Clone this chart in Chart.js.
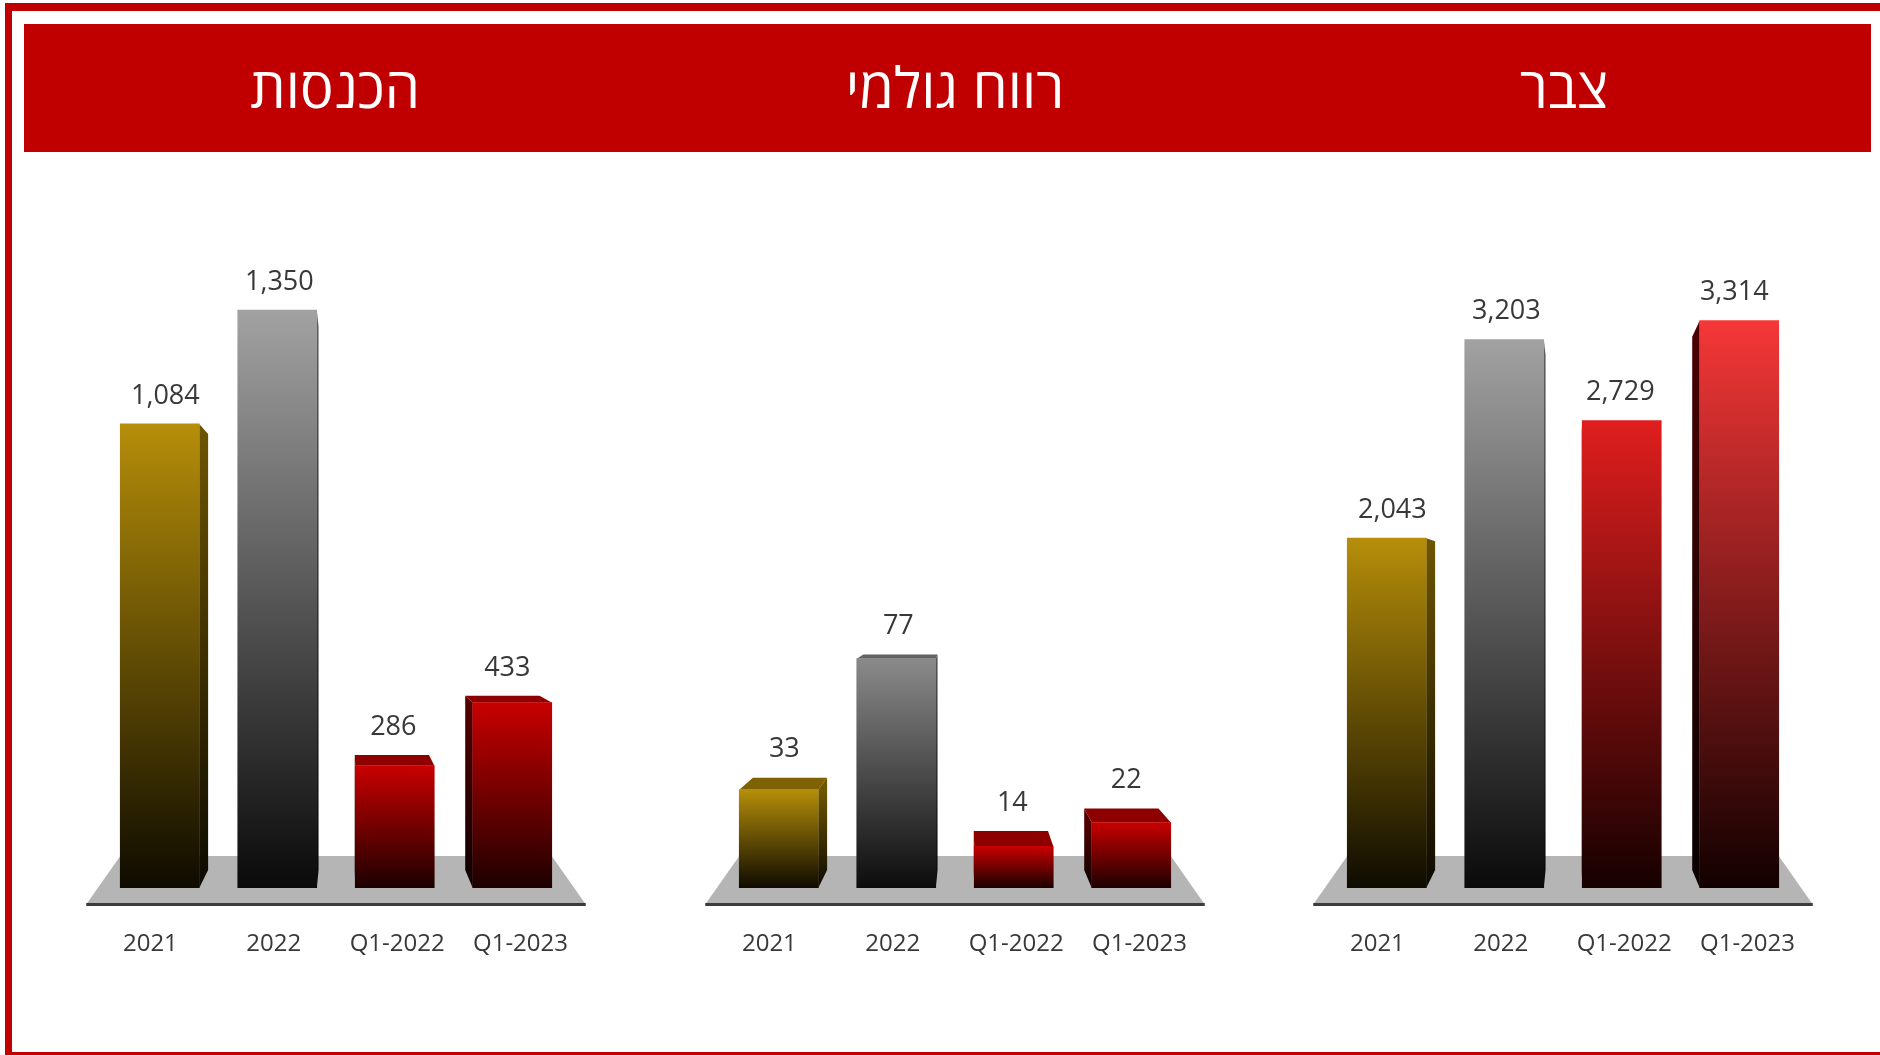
<!DOCTYPE html>
<html lang="he">
<head>
<meta charset="utf-8">
<title>הכנסות / רווח גולמי / צבר</title>
<script src="https://cdn.jsdelivr.net/npm/chart.js@4.4.1/dist/chart.umd.min.js"></script>
<style>
  html, body { margin: 0; padding: 0; background: #fff; }
  body { width: 1880px; height: 1055px; position: relative; overflow: hidden; font-family: "Open Sans", "DejaVu Sans", sans-serif; }
  .frame-top { position: absolute; left: 5px; top: 3px; width: 1875px; height: 8px; background: #c00000; }
  .frame-left { position: absolute; left: 5px; top: 3px; width: 7px; height: 1052px; background: #c00000; }
  .frame-bottom { position: absolute; left: 5px; top: 1052px; width: 1875px; height: 3px; background: #c00000; }
  .band { position: absolute; left: 24px; top: 24px; width: 1847px; height: 128px; background: #c00000; }
  .title { position: absolute; top: 22px; height: 128px; line-height: 128px; width: 600px; text-align: center; color: #fff; font-size: 56px; direction: rtl; }
  .panel { position: absolute; top: 160px; }
</style>
</head>
<body>
<div class="frame-top"></div>
<div class="frame-left"></div>
<div class="frame-bottom"></div>
<div class="band"></div>
<div class="title" id="t0" style="left: 35px;"></div>
<div class="title" id="t1" style="left: 655px;"></div>
<div class="title" id="t2" style="left: 1264px;"></div>
<canvas class="panel" id="c0" width="550" height="890" style="left: 61px;"></canvas>
<canvas class="panel" id="c1" width="550" height="890" style="left: 680px;"></canvas>
<canvas class="panel" id="c2" width="550" height="890" style="left: 1288px;"></canvas>

<script>
// Data
const categories = ['2021', '2022', 'Q1-2022', 'Q1-2023'];
const revenue = [1084, 1350, 286, 433];
const grossProfit = [33, 77, 14, 22];
const backlog = [2043, 3203, 2729, 3314];
const panelTitles = ['הכנסות', 'רווח גולמי', 'צבר'];
const axisMax = [1600, 230, 4000];

// Bar colours (front gradient top/bottom, side gradient, top face)
const gold = { front: ['#b68e0a', '#0e0b00'], side: ['#6e5500', '#0c0900'], top: '#7d6102' };
const grey = { front: ['#a2a2a2', '#0a0a0a'], side: ['#5c5c5c', '#080808'], top: '#6a6a6a' };
const greyDark = { front: ['#8a8a8a', '#0c0c0c'], side: ['#505050', '#080808'], top: '#626262' };
const red = { front: ['#c80000', '#1c0000'], side: ['#520000', '#0c0000'], top: '#8e0000' };
const redBright = { front: ['#e01e1e', '#160000'], side: ['#560000', '#0a0000'], top: '#9a0000' };
const redBrighter = { front: ['#f53737', '#120000'], side: ['#4c0000', '#080000'], top: '#a00000' };

const panels = [
    { values: revenue, colors: [gold, grey, red, red] },
    { values: grossProfit, colors: [gold, greyDark, red, red] },
    { values: backlog, colors: [gold, grey, redBright, redBrighter] }
];

const labelFont = '"Open Sans", "DejaVu Sans", sans-serif';

// Draws floor, side faces, top faces, value labels and category labels (with perspective)
const box3d = {
    id: 'box3d',
    beforeDatasetsDraw(chart, args, opts) {
        const { ctx } = chart;
        const bars = chart.getDatasetMeta(0).data;
        const zero = chart.scales.y.getPixelForValue(0);
        const first = bars[0];
        const last = bars[bars.length - 1];
        const vx = (first.x + last.x) / 2 + opts.vx;
        const vy = zero + opts.vy;
        const d = opts.depth;
        const back = (x, y) => [x + d * (vx - x), y + d * (vy - y)];

        ctx.save();
        // floor
        const bl = first.x - first.width / 2;
        const br = last.x + last.width / 2;
        ctx.fillStyle = '#b5b5b5';
        ctx.beginPath();
        ctx.moveTo(bl, zero - 32);
        ctx.lineTo(br, zero - 32);
        ctx.lineTo(br + 33, zero + 15);
        ctx.lineTo(bl - 33, zero + 15);
        ctx.closePath();
        ctx.fill();
        ctx.fillStyle = '#3c3c3c';
        ctx.fillRect(bl - 34, zero + 15, br - bl + 68, 3);

        bars.forEach((bar, i) => {
            const pal = opts.colors[i];
            const x0 = bar.x - bar.width / 2;
            const x1 = bar.x + bar.width / 2;
            const yt = bar.y;
            const yb = bar.base;
            const sx = bar.x < vx ? x1 : x0;
            const [bx, bty] = back(sx, yt);
            const [, bby] = back(sx, yb);
            const g = ctx.createLinearGradient(0, yt, 0, yb);
            g.addColorStop(0, pal.side[0]);
            g.addColorStop(1, pal.side[1]);
            ctx.fillStyle = g;
            ctx.beginPath();
            ctx.moveTo(sx, yt);
            ctx.lineTo(bx, bty);
            ctx.lineTo(bx, bby);
            ctx.lineTo(sx, yb);
            ctx.closePath();
            ctx.fill();
            if (yt > vy) {
                const [lx, ly] = back(x0, yt);
                const [rx, ry] = back(x1, yt);
                ctx.fillStyle = pal.top;
                ctx.beginPath();
                ctx.moveTo(x0, yt);
                ctx.lineTo(x1, yt);
                ctx.lineTo(rx, ry);
                ctx.lineTo(lx, ly);
                ctx.closePath();
                ctx.fill();
            }
        });
        ctx.restore();
    },
    afterDatasetsDraw(chart, args, opts) {
        const { ctx } = chart;
        const bars = chart.getDatasetMeta(0).data;
        const values = chart.data.datasets[0].data;
        const xScale = chart.scales.x;
        const zero = chart.scales.y.getPixelForValue(0);
        const vx = (bars[0].x + bars[bars.length - 1].x) / 2 + opts.vx;
        const vy = zero + opts.vy;
        ctx.save();
        ctx.fillStyle = '#383838';
        ctx.textAlign = 'center';
        ctx.textBaseline = 'middle';
        // values above the bars
        ctx.font = '27px ' + labelFont;
        bars.forEach((bar, i) => {
            let top = bar.y;
            if (top > vy) top += opts.depth * (vy - top);
            const x = bar.x + 0.5 * opts.depth * (vx - bar.x);
            ctx.fillText(values[i].toLocaleString('en-US'), x, top - 28);
        });
        // category labels on the front edge of the floor
        ctx.font = '24px ' + labelFont;
        chart.data.labels.forEach((label, i) => {
            const x = vx + (xScale.getPixelForTick(i) - vx) * 1.05;
            ctx.fillText(label, x, zero + 56);
        });
        ctx.restore();
    }
};

panels.forEach((p, n) => {
    document.getElementById('t' + n).textContent = panelTitles[n];

    new Chart(document.getElementById('c' + n), {
        type: 'bar',
        data: {
            labels: categories,
            datasets: [{
                data: p.values,
                barThickness: 79,
                borderWidth: 0,
                backgroundColor: (context) => {
                    const chart = context.chart;
                    if (!chart.chartArea) return p.colors[context.dataIndex].front[0];
                    const y = chart.scales.y;
                    const top = y.getPixelForValue(context.raw);
                    const bottom = y.getPixelForValue(0);
                    const g = chart.ctx.createLinearGradient(0, top, 0, bottom);
                    const c = p.colors[context.dataIndex].front;
                    g.addColorStop(0, c[0]);
                    g.addColorStop(1, c[1]);
                    return g;
                }
            }]
        },
        options: {
            responsive: false,
            animation: false,
            layout: { padding: { top: 43, left: 40, right: 40, bottom: 0 } },
            plugins: {
                legend: { display: false },
                tooltip: { enabled: false },
                box3d: { colors: p.colors, vx: 11, vy: -298, depth: 0.06 }
            },
            scales: {
                y: { display: false, min: 0, max: axisMax[n] },
                x: {
                    grid: { display: false, drawTicks: false },
                    border: { display: false },
                    ticks: { display: false },
                    afterFit: (scale) => { scale.height = 162; }
                }
            }
        },
        plugins: [box3d]
    });
});
</script>
</body>
</html>
